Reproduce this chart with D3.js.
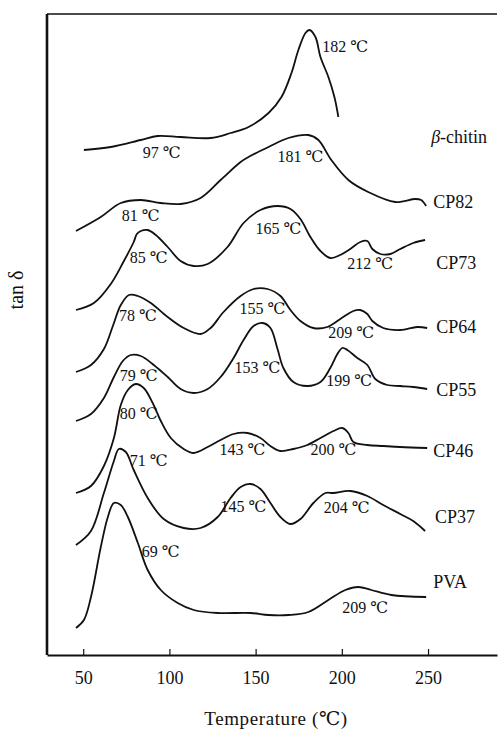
<!DOCTYPE html>
<html>
<head>
<meta charset="utf-8">
<script src="https://cdn.jsdelivr.net/npm/d3@7/dist/d3.min.js"></script>
<style>
  body { margin: 0; background: #fff; }
  text { font-family: "Liberation Serif", "DejaVu Serif", "Noto Sans CJK SC", serif; fill: #111; }
</style>
</head>
<body>
<script>
// temperatures (℃) and stacked tan δ (arbitrary offset units)
var chitinT = [50.4, 66.0, 83.4, 93.2, 106.5, 123.9, 135.5, 145.9, 157.5, 165.0, 170.8, 174.8, 178.9, 181.2, 184.7, 187.6, 192.2, 195.7, 198.0];
var chitinV = [50.5, 50.8, 51.5, 51.9, 51.8, 51.7, 52.2, 52.8, 54.2, 55.8, 58.2, 60.5, 62.2, 62.5, 61.8, 59.8, 57.8, 55.8, 53.8];

var cp82T = [45.8, 60.2, 71.8, 83.4, 95.0, 106.5, 118.1, 129.7, 141.3, 145.9, 157.5, 169.0, 180.6, 186.4, 193.9, 203.8, 215.3, 231.0, 242.5, 246.0, 248.9];
var cp82V = [42.4, 43.8, 45.2, 45.5, 45.2, 45.1, 45.7, 47.5, 49.3, 49.8, 50.8, 51.7, 52.0, 51.5, 49.5, 47.5, 46.3, 45.3, 45.6, 45.5, 44.9];

var cp73T = [45.8, 56.2, 66.0, 73.6, 79.3, 81.1, 83.4, 87.4, 92.1, 99.0, 106.5, 114.1, 122.2, 133.7, 143.0, 152.8, 162.7, 170.2, 176.0, 181.8, 187.6, 193.3, 199.1, 204.9, 210.7, 214.8, 217.7, 222.3, 228.1, 233.9, 241.4, 248.3];
var cp73V = [34.5, 35.2, 37.1, 39.4, 41.3, 42.1, 42.4, 42.5, 42.0, 40.8, 39.4, 38.9, 39.1, 40.8, 43.2, 44.5, 44.9, 44.6, 43.6, 41.8, 40.4, 39.7, 40.0, 40.6, 41.3, 41.4, 40.6, 40.1, 40.1, 40.6, 41.2, 41.5];

var cp64T = [45.8, 54.5, 62.0, 67.2, 71.8, 76.5, 81.7, 89.2, 99.0, 108.3, 118.1, 123.9, 131.4, 141.3, 148.8, 156.9, 164.4, 170.2, 176.0, 183.5, 191.6, 199.1, 206.7, 210.7, 214.8, 217.7, 224.0, 233.9, 243.7, 249.5];
var cp64V = [28.3, 29.0, 30.6, 32.9, 35.0, 36.0, 35.9, 35.2, 33.8, 32.7, 32.1, 32.7, 34.3, 35.9, 36.6, 36.6, 35.9, 34.5, 33.4, 32.7, 32.8, 33.6, 34.4, 34.5, 34.1, 33.4, 32.7, 32.5, 32.8, 32.7];

var cp55T = [45.8, 54.5, 62.0, 67.8, 73.0, 77.6, 83.4, 90.9, 99.0, 106.5, 114.1, 122.2, 129.7, 137.2, 143.0, 148.8, 154.0, 158.6, 162.7, 166.1, 171.9, 180.0, 187.6, 193.3, 197.4, 200.3, 203.2, 209.0, 214.8, 219.4, 226.3, 233.9, 241.4, 249.5];
var cp55V = [23.4, 24.1, 25.7, 27.8, 29.4, 30.0, 29.9, 29.0, 27.8, 26.6, 26.2, 26.6, 27.8, 29.7, 31.5, 32.9, 33.2, 32.7, 30.6, 28.7, 27.3, 26.9, 27.3, 28.7, 30.1, 30.7, 30.5, 29.7, 29.0, 27.6, 27.0, 26.9, 26.8, 26.6];

var cp46T = [45.8, 54.5, 62.0, 67.8, 71.8, 75.9, 80.5, 85.1, 90.3, 95.0, 100.8, 108.3, 114.1, 122.2, 129.7, 137.2, 145.3, 152.8, 158.6, 164.4, 171.9, 180.0, 187.6, 195.1, 200.3, 203.8, 206.7, 214.8, 224.0, 233.9, 249.5];
var cp46V = [16.2, 16.9, 18.9, 21.7, 25.0, 26.5, 27.1, 26.7, 25.2, 23.4, 21.7, 20.6, 20.2, 20.8, 21.5, 22.1, 22.2, 21.7, 20.9, 20.4, 20.6, 21.0, 21.7, 22.4, 22.7, 22.2, 21.3, 21.0, 20.9, 20.8, 20.7];

var cp37T = [45.8, 54.5, 62.0, 67.8, 70.7, 74.7, 79.3, 87.4, 96.7, 108.3, 118.1, 128.0, 135.5, 141.3, 147.1, 152.8, 158.6, 164.4, 170.2, 176.0, 183.5, 190.5, 195.1, 204.9, 214.8, 224.0, 233.9, 241.4, 248.3];
var cp37V = [11.0, 12.4, 16.2, 19.4, 20.6, 20.3, 18.5, 15.7, 13.6, 12.7, 12.7, 13.8, 15.7, 16.8, 17.1, 16.6, 15.2, 13.8, 13.1, 13.6, 15.2, 16.2, 16.2, 16.4, 15.9, 15.0, 14.1, 13.4, 12.4];

var pvaT = [45.8, 50.4, 54.5, 60.2, 64.3, 67.8, 71.8, 75.9, 81.7, 87.4, 95.0, 104.8, 114.1, 128.0, 147.1, 157.5, 169.0, 180.6, 192.2, 202.0, 209.6, 217.1, 228.7, 248.9];
var pvaV = [2.7, 3.5, 5.8, 10.8, 13.8, 15.2, 15.0, 13.8, 11.2, 8.5, 6.5, 5.2, 4.5, 4.2, 4.2, 4.0, 4.0, 4.3, 5.5, 6.5, 6.8, 6.5, 6.0, 5.8];

// curve names and where they sit at the right end
var seriesNames = ["β-chitin", "CP82", "CP73", "CP64", "CP55", "CP46", "CP37", "PVA"];
var nameT = [251.8, 253.0, 254.7, 254.7, 254.7, 253.0, 254.1, 253.0];
var nameV = [51.8, 45.3, 39.2, 32.8, 26.5, 20.4, 13.8, 7.3];

// peak temperature labels
var peakText = ["182 ℃", "97 ℃", "81 ℃", "181 ℃", "85 ℃", "165 ℃", "212 ℃", "78 ℃", "155 ℃", "209 ℃",
                "79 ℃", "153 ℃", "199 ℃", "80 ℃", "143 ℃", "200 ℃", "71 ℃", "145 ℃", "204 ℃", "69 ℃", "209 ℃"];
var peakT = [202.0, 95.6, 83.4, 176.0, 88.0, 163.3, 216.5, 81.7, 154.0, 205.5,
             82.2, 151.1, 204.3, 82.2, 142.4, 195.1, 88.0, 143.0, 202.8, 95.0, 213.6];
var peakV = [60.9, 50.3, 44.0, 49.9, 39.8, 42.7, 39.2, 34.0, 34.7, 32.3,
             28.0, 28.8, 27.5, 24.2, 20.6, 20.6, 19.5, 14.9, 14.8, 10.4, 4.8];

var xTicks = [50, 100, 150, 200, 250];

var W = 498, H = 729;
var svg = d3.select("body").append("svg").attr("width", W).attr("height", H);

var x = d3.scaleLinear().domain([29, 290]).range([47, 497]);
var y = d3.scaleLinear().domain([0, 64.1]).range([655, 14]);

var series = [
  [chitinT, chitinV], [cp82T, cp82V], [cp73T, cp73V], [cp64T, cp64V],
  [cp55T, cp55V], [cp46T, cp46V], [cp37T, cp37V], [pvaT, pvaV]
].map(function(s) {
  return s[0].map(function(t, i) { return { t: t, v: s[1][i] }; });
});

var line = d3.line()
  .x(function(d) { return x(d.t); })
  .y(function(d) { return y(d.v); })
  .curve(d3.curveCatmullRom.alpha(0.5));

svg.selectAll("path.curve")
  .data(series)
  .enter().append("path")
    .attr("class", "curve")
    .attr("d", line)
    .attr("fill", "none")
    .attr("stroke", "#111")
    .attr("stroke-width", 1.8);

// frame: left + top lines, bottom is the axis
svg.append("line")
  .attr("x1", x(29)).attr("x2", x(29)).attr("y1", y(64.1)).attr("y2", y(0))
  .attr("stroke", "#111").attr("stroke-width", 2.6);
svg.append("line")
  .attr("x1", x(29)).attr("x2", x(290)).attr("y1", y(64.1)).attr("y2", y(64.1))
  .attr("stroke", "#111").attr("stroke-width", 1.6);

var xAxis = d3.axisBottom(x)
  .tickValues(xTicks)
  .tickSizeInner(-6)
  .tickSizeOuter(0)
  .tickPadding(16);

var gx = svg.append("g")
  .attr("transform", "translate(0," + y(0) + ")")
  .call(xAxis);
gx.select(".domain").attr("stroke", "#111").attr("stroke-width", 2.2);
gx.selectAll(".tick line").attr("stroke", "#111").attr("stroke-width", 1.2);
gx.selectAll(".tick text")
  .attr("font-family", "Liberation Serif, serif")
  .attr("font-size", 18)
  .attr("fill", "#111");

// peak labels
svg.selectAll("text.peak")
  .data(peakText)
  .enter().append("text")
    .attr("class", "peak")
    .attr("x", function(d, i) { return x(peakT[i]); })
    .attr("y", function(d, i) { return y(peakV[i]); })
    .attr("dy", "0.35em")
    .attr("text-anchor", "middle")
    .attr("font-size", 16)
    .text(function(d) { return d; });

// series names
var names = svg.selectAll("text.name")
  .data(seriesNames)
  .enter().append("text")
    .attr("class", "name")
    .attr("x", function(d, i) { return x(nameT[i]); })
    .attr("y", function(d, i) { return y(nameV[i]); })
    .attr("dy", "0.35em")
    .attr("font-size", 18);
names.each(function(d) {
  var t = d3.select(this);
  if (d.charAt(0) === "β") {
    t.append("tspan").attr("font-style", "italic").text("β");
    t.append("tspan").text(d.slice(1));
  } else {
    t.text(d);
  }
});

// axis titles
svg.append("text")
  .attr("x", 276).attr("y", 725)
  .attr("text-anchor", "middle")
  .attr("font-size", 19)
  .attr("letter-spacing", "0.6px")
  .text("Temperature (℃)");

svg.append("text")
  .attr("transform", "translate(23,290) rotate(-90)")
  .attr("text-anchor", "middle")
  .attr("font-size", 20)
  .text("tan δ");
</script>
</body>
</html>
